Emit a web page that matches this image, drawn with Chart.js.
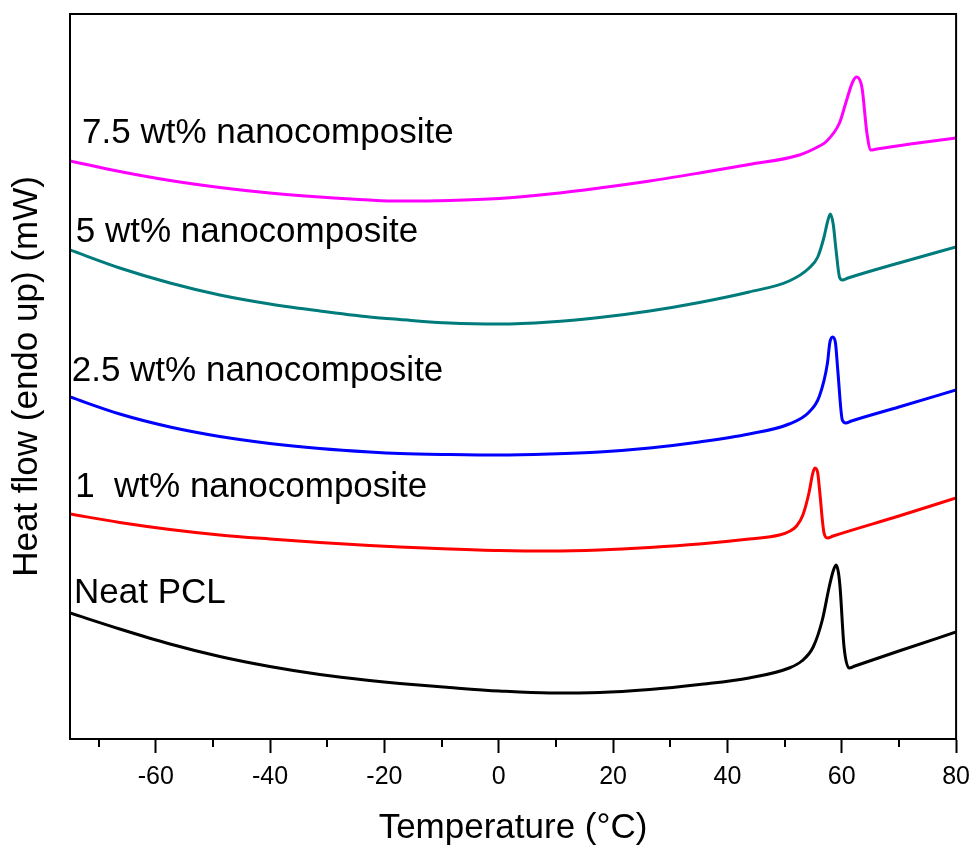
<!DOCTYPE html>
<html>
<head>
<meta charset="utf-8">
<script src="https://cdn.jsdelivr.net/npm/chart.js@4.4.1/dist/chart.umd.min.js"></script>
<style>
  body { margin: 0; background: #fff; }
</style>
</head>
<body>
<canvas id="dsc" width="979" height="852"></canvas>
<script>
// DSC heating curves - temperature (°C) vs heat flow (stacked, arbitrary offset units)

const tempNeat = [-75, -66.3, -57.5, -48.8, -40.05, -31.3, -22.6, -17.3, -8.6, 0.1, 8.9, 17.6, 26.4, 35.1, 43.8, 50.8, 53.0, 55.0, 56.6, 57.8, 58.5, 59.0, 59.4, 59.7, 60.4, 61.3, 62.3, 70, 80];
const flowNeat = [126, 110, 95, 82.5, 72.5, 64.5, 58.5, 55.5, 51.5, 48, 46, 46.5, 49.5, 54.5, 61, 71, 78, 92, 119, 152, 168, 174, 167, 152, 92, 71, 73, 88, 107];

const temp1 = [-75, -66.3, -57.5, -48.8, -40.05, -31.3, -22.6, -17.3, -8.6, 0.1, 8.9, 17.6, 26.4, 35.1, 43.8, 49.1, 50.8, 52.1, 53.2, 54.3, 54.9, 55.3, 55.8, 56.1, 56.9, 57.5, 58.5, 70, 80];
const flow1 = [225, 216.5, 209.5, 204, 200, 196.5, 193.5, 192, 190, 188.5, 188, 189, 191.5, 195, 200, 204, 207.5, 213, 224, 247, 265, 271, 266, 250, 206, 201, 203, 223, 241];

const temp25 = [-75, -66.3, -57.5, -48.8, -40.05, -31.3, -22.6, -17.3, -8.6, 0.1, 8.9, 17.6, 26.4, 35.1, 43.8, 50.8, 54.3, 56.1, 57.5, 57.9, 58.4, 58.9, 59.3, 60.1, 60.7, 61.7, 70, 80];
const flow25 = [342, 325, 312, 302.5, 295.5, 290.5, 287, 285.5, 284.5, 284, 285, 287, 291, 297, 305, 315, 327, 343, 376, 396, 402, 396, 369, 319, 316, 318, 332, 349];

const temp5 = [-75, -66.3, -57.5, -48.8, -40.05, -31.3, -22.6, -17.3, -8.6, 0.1, 8.9, 17.6, 26.4, 35.1, 43.8, 50.8, 54.3, 55.8, 56.9, 57.5, 58.0, 58.5, 59.0, 59.6, 60.1, 61.1, 70, 80];
const flow5 = [489, 471, 456, 444, 435, 428, 422, 419.5, 416, 415, 417, 421.5, 428, 436.5, 447, 458, 471, 482, 502, 517, 525, 515, 489, 462, 459, 461, 476, 492];

const temp75 = [-75, -66.3, -57.5, -48.8, -40.05, -31.3, -22.6, -17.3, -8.6, 0.1, 8.9, 17.6, 26.4, 35.1, 43.8, 52.6, 56.1, 57.2, 59.6, 60.7, 61.9, 62.6, 63.3, 63.6, 64.4, 65.1, 66.1, 72, 80];
const flow75 = [578, 567.5, 558.5, 551.5, 546, 542, 539, 538, 538.5, 540.5, 545, 551, 558, 566, 574.5, 584, 593, 597, 616, 636, 657, 662, 657, 649, 606, 589, 590, 595, 601];

const seriesNames = ['Neat PCL', '1  wt% nanocomposite', '2.5 wt% nanocomposite', '5 wt% nanocomposite', '7.5 wt% nanocomposite'];
const seriesColors = ['#000000', '#ff0000', '#0000ff', '#007b7b', '#ff00ff'];

// where each curve's name sits (left edge temp, baseline heat flow)
const labelTemps = [-74.3, -74.1, -74.7, -74.0, -72.9];
const labelFlows = [136, 242, 358, 497, 596];

const majorTicks = [-60, -40, -20, 0, 20, 40, 60, 80];
const minorTicks = [-70, -50, -30, -10, 10, 30, 50, 70];

const FONT = "'Liberation Sans', Arial, Helvetica, sans-serif";
Chart.defaults.font.family = FONT;
Chart.defaults.color = '#000';

const temps = [tempNeat, temp1, temp25, temp5, temp75];
const flows = [flowNeat, flow1, flow25, flow5, flow75];

const datasets = seriesNames.map((name, i) => ({
  label: name,
  data: temps[i].map((t, j) => ({ x: t, y: flows[i][j] })),
  borderColor: seriesColors[i],
  borderWidth: 3,
  pointRadius: 0,
  fill: false,
  cubicInterpolationMode: 'monotone'
}));

// frame, minor ticks and the curve names
const extras = {
  id: 'extras',
  afterDraw(chart) {
    const ctx = chart.ctx;
    const a = chart.chartArea;
    const xs = chart.scales.x, ys = chart.scales.y;
    ctx.save();
    ctx.strokeStyle = '#000';
    ctx.lineWidth = 2;
    ctx.strokeRect(a.left, a.top, a.right - a.left, a.bottom - a.top);
    minorTicks.forEach(v => {
      const px = Math.round(xs.getPixelForValue(v));
      ctx.beginPath();
      ctx.moveTo(px, a.bottom);
      ctx.lineTo(px, a.bottom + 8);
      ctx.stroke();
    });
    ctx.fillStyle = '#000';
    ctx.font = '35px ' + FONT;
    ctx.textBaseline = 'alphabetic';
    ctx.textAlign = 'left';
    seriesNames.forEach((name, i) => {
      ctx.fillText(name, xs.getPixelForValue(labelTemps[i]), ys.getPixelForValue(labelFlows[i]));
    });
    ctx.restore();
  }
};

const dscChart = new Chart(document.getElementById('dsc'), {
  type: 'line',
  data: { datasets: datasets },
  options: {
    responsive: false,
    animation: false,
    layout: { padding: { top: 14, right: 22, left: 0, bottom: 0 } },
    plugins: {
      legend: { display: false },
      tooltip: { enabled: false }
    },
    scales: {
      x: {
        type: 'linear',
        min: -75,
        max: 80,
        afterBuildTicks: s => { s.ticks = majorTicks.map(v => ({ value: v })); },
        afterFit: s => { s.height = 113; },
        grid: { drawOnChartArea: false, drawTicks: true, tickLength: 14, tickWidth: 2, tickColor: '#000' },
        border: { display: true, color: '#000', width: 2 },
        ticks: { color: '#000', font: { size: 25 }, padding: 9, maxRotation: 0, autoSkip: false },
        title: { display: true, text: 'Temperature (°C)', color: '#000', font: { size: 35 }, padding: { top: 0, bottom: 3 } }
      },
      y: {
        type: 'linear',
        min: 0,
        max: 725,
        afterFit: s => { s.width = 70; },
        grid: { drawOnChartArea: false, drawTicks: false },
        border: { display: true, color: '#000', width: 2 },
        ticks: { display: false },
        title: { display: true, text: 'Heat flow (endo up) (mW)', color: '#000', font: { size: 35 }, padding: { top: 6, bottom: 0 } }
      }
    }
  },
  plugins: [extras]
});
</script>
</body>
</html>
